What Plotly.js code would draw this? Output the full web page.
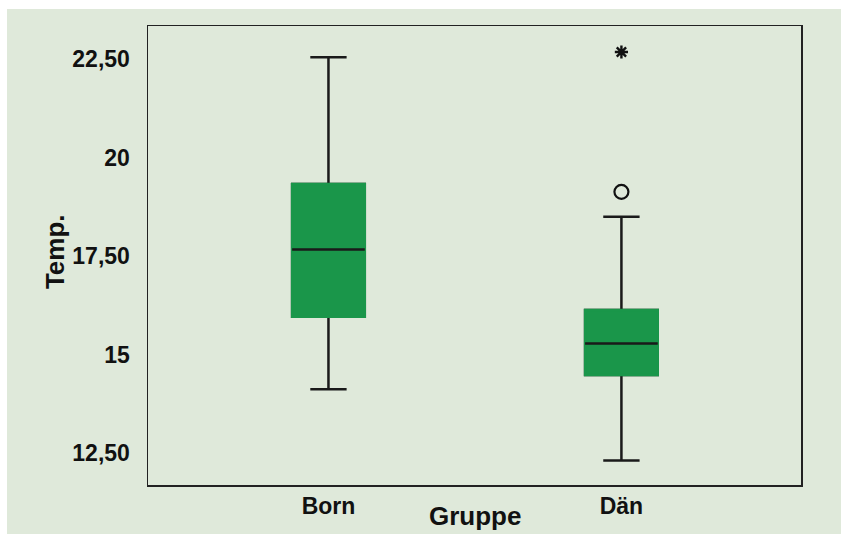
<!DOCTYPE html>
<html>
<head>
<meta charset="utf-8">
<script src="https://cdn.plot.ly/plotly-3.0.1.min.js"></script>
<style>
html,body{margin:0;padding:0;background:#ffffff;width:841px;height:534px;overflow:hidden;}
#chart{position:absolute;left:7px;top:9px;width:834px;height:525px;}
</style>
</head>
<body>
<div id="chart"></div>
<script>
// Data
var groups = ["Born", "Dän"];
var q1 = [15.96, 14.48];
var median = [17.67, 15.28];
var q3 = [19.33, 16.13];
var lowerWhisker = [14.12, 12.31];
var upperWhisker = [22.55, 18.50];
var outlierGroup = ["Dän"];
var outlierValue = [19.13];
var extremeGroup = ["Dän"];
var extremeValue = [22.68];
var yTickVals = [12.5, 15, 17.5, 20, 22.5];
var yTickText = ["12,50", "15", "17,50", "20", "22,50"];

var green = "#1a964a";
var bg = "#dfe9da";
var boxW = 0.248;

var traces = [
  { // whiskers, border, median in black
    type: "box", x: groups, q1: q1, median: median, q3: q3,
    lowerfence: lowerWhisker, upperfence: upperWhisker,
    width: boxW, whiskerwidth: 0.5, boxpoints: false,
    fillcolor: green, line: {color: "#1a1a1a", width: 2.5},
    hoverinfo: "skip", showlegend: false
  },
  { // cover the box border in green
    type: "box", x: groups, q1: q1, median: median, q3: q3,
    lowerfence: q1, upperfence: q3,
    width: boxW, whiskerwidth: 0, boxpoints: false,
    fillcolor: green, line: {color: green, width: 2.5},
    hoverinfo: "skip", showlegend: false
  },
  { // median line in black
    type: "box", x: groups, q1: median, median: median, q3: median,
    lowerfence: median, upperfence: median,
    width: boxW, whiskerwidth: 0, boxpoints: false,
    fillcolor: "#1a1a1a", line: {color: "#1a1a1a", width: 2.5},
    hoverinfo: "skip", showlegend: false
  },
  {
    type: "scatter", mode: "markers", x: outlierGroup, y: outlierValue,
    marker: {symbol: "circle-open", size: 14, color: "#111", line: {width: 2.2, color: "#111"}},
    hoverinfo: "skip", showlegend: false
  },
  {
    type: "scatter", mode: "markers", x: extremeGroup, y: extremeValue,
    marker: {symbol: "asterisk-open", size: 11, color: "#111", line: {width: 2.4, color: "#111"}},
    hoverinfo: "skip", showlegend: false
  }
];

var tickFont = {family: "Liberation Sans, Arial, sans-serif", size: 23, color: "#111", weight: 700};
var layout = {
  width: 834, height: 525,
  margin: {l: 141, r: 40, t: 17, b: 49},
  paper_bgcolor: bg, plot_bgcolor: bg,
  boxmode: "overlay",
  showlegend: false,
  xaxis: {
    type: "category", categoryorder: "array", categoryarray: groups,
    range: [-0.616, 1.613], showgrid: false, zeroline: false,
    showline: true, mirror: true, linecolor: "#222", linewidth: 1.5,
    ticks: "", tickfont: tickFont, ticklabelstandoff: 0, fixedrange: true
  },
  yaxis: {
    range: [11.69, 23.34], showgrid: false, zeroline: false,
    showline: true, mirror: true, linecolor: "#222", linewidth: 1.5,
    ticks: "", tickvals: yTickVals, ticktext: yTickText,
    tickfont: tickFont, ticklabelstandoff: 12, fixedrange: true
  },
  annotations: [
    {text: "Gruppe", xref: "paper", yref: "paper", x: 0.5, y: -0.031,
     xanchor: "center", yanchor: "top", showarrow: false,
     font: {family: "Liberation Sans, Arial, sans-serif", size: 26, color: "#111", weight: 700}},
    {text: "Temp.", xref: "paper", yref: "paper", x: -0.142, y: 0.508,
     xanchor: "center", yanchor: "middle", textangle: -90, showarrow: false,
     font: {family: "Liberation Sans, Arial, sans-serif", size: 26, color: "#111", weight: 700}}
  ]
};

Plotly.newPlot("chart", traces, layout, {displayModeBar: false, staticPlot: true});
</script>
</body>
</html>
